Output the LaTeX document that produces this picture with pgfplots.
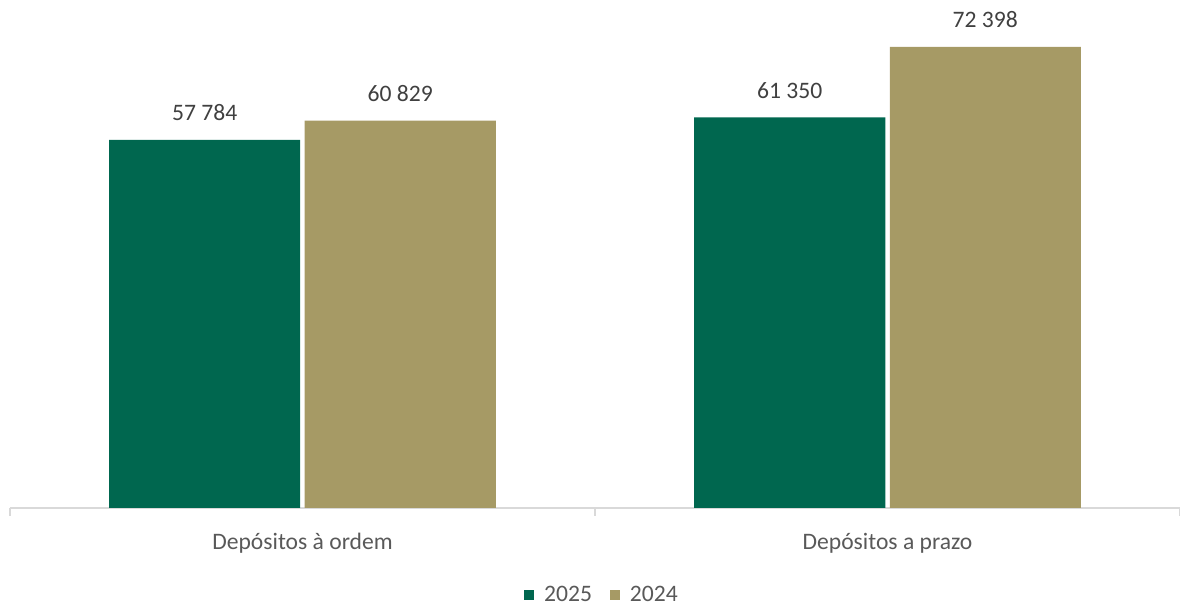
\documentclass[border=0pt]{standalone}
\usepackage{fontspec}
\setmainfont{Carlito}
\usepackage{pgfplots}
\pgfplotsset{compat=1.18}
\definecolor{cgreen}{HTML}{00674F}
\definecolor{ckhaki}{HTML}{A69A65}
\definecolor{clabel}{HTML}{404040}
\definecolor{caxis}{HTML}{595959}
\definecolor{cline}{HTML}{D9D9D9}
\begin{document}
\begin{tikzpicture}
\begin{axis}[
    at={(0,0)}, anchor=south west,
    scale only axis,
    width=585pt, height=254pt,
    ybar=2.25pt,
    bar width=95.5pt,
    xmin=-0.5, xmax=1.5,
    ymin=0, ymax=79760,
    axis y line=none,
    axis x line*=bottom,
    x axis line style={cline, line width=0.6pt, -},
    xtick={-0.5,0.5,1.5},
    xticklabels={},
    tick align=outside,
    major tick length=4pt,
    tick style={cline, line width=0.6pt},
    extra x ticks={0,1},
    extra x tick labels={Depósitos à ordem, Depósitos a prazo},
    extra x tick style={major tick length=0pt,
        xticklabel style={font=\fontsize{11.8}{14}\selectfont, text=caxis, yshift=-9pt}},
    nodes near coords,
    point meta=explicit symbolic,
    every node near coord/.append style={font=\fontsize{11.8}{14}\selectfont, text=clabel, anchor=south, yshift=6pt},
    legend columns=2,
    legend style={at={(0.5,-0.172)}, anchor=center, xshift=4pt, draw=none, fill=none,
        font=\fontsize{11.8}{14}\selectfont, text=caxis,
        /tikz/every odd column/.append style={column sep=3pt},
        /tikz/every even column/.append style={column sep=7pt}},
    legend image code/.code={\fill[#1] (0pt,-2.5pt) rectangle (5pt,2.5pt);},
]
\addplot[fill=cgreen, draw=none] coordinates {(0,57784) [57 784] (1,61350) [61 350]};
\addplot[fill=ckhaki, draw=none] coordinates {(0,60829) [60 829] (1,72398) [72 398]};
\legend{2025, 2024}
\end{axis}
\pgfresetboundingbox
\path[use as bounding box] (-5pt,-48.5pt) rectangle (585pt,254pt);
\end{tikzpicture}
\end{document}
